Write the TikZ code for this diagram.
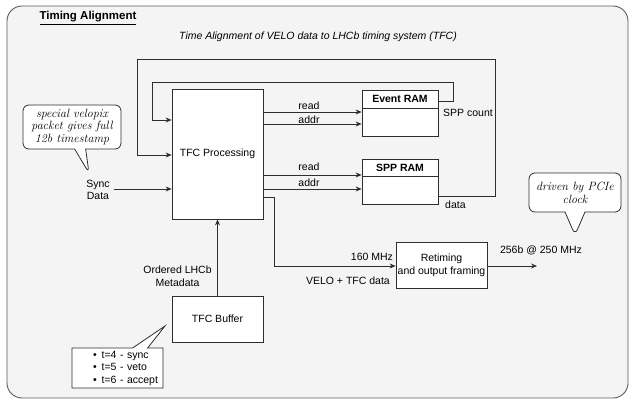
\documentclass[tikz,border=0pt]{standalone}
\usepackage{fontspec}
\setsansfont{Liberation Sans}
\usetikzlibrary{arrows.meta, positioning, shapes.callouts}
\definecolor{mFrame}{HTML}{5A5A5A}
\definecolor{mPanel}{HTML}{F4F4F4}
\definecolor{mLine}{HTML}{2E2E2E}

\begin{document}
\begin{tikzpicture}[x=1pt, y=-1pt,
      every node/.style={font=\sffamily\fontsize{10.5}{12.5}\selectfont},
      blk/.style={draw=mLine, fill=white, line width=0.8pt, inner sep=0pt},
      arr/.style={-{Stealth[length=6pt, width=5pt]}, mLine, line width=0.8pt},
      lbl/.style={inner sep=1pt},
      note/.style={draw=mLine, fill=white, line width=0.8pt, rounded corners=6pt,
        rectangle callout, align=center, inner sep=0pt,
        font=\rmfamily\itshape\fontsize{12}{12.7}\selectfont}]
    \useasboundingbox (0,0) rectangle (635,401);
    \draw[mFrame, fill=mPanel, line width=0.9pt, rounded corners=15pt] (7,6) rectangle (628,398);
    \node[anchor=west, font=\sffamily\bfseries\fontsize{11.5}{13}\selectfont] (title) at (36,18) {\underline{Timing Alignment}};
    \node[font=\sffamily\itshape\fontsize{10.5}{12}\selectfont] (subtitle) at (318,37) {Time Alignment of VELO data to LHCb timing system (TFC)};

    % blocks
    \node[blk, minimum width=91pt, minimum height=130pt] (tfc) at (217.5,154) {TFC Processing};
    \node[blk, minimum width=76pt, minimum height=18pt, font=\sffamily\bfseries\fontsize{10.5}{12}\selectfont] (evhead) at (400,99) {Event RAM};
    \node[blk, minimum width=76pt, minimum height=28pt] (evbody) at (400,122) {};
    \node[blk, minimum width=76pt, minimum height=17pt, font=\sffamily\bfseries\fontsize{10.5}{12}\selectfont] (spphead) at (400,167.5) {SPP RAM};
    \node[blk, minimum width=76pt, minimum height=28pt] (sppbody) at (400,190) {};
    \node[blk, minimum width=91pt, minimum height=46pt, align=center, font=\sffamily\fontsize{10.5}{13}\selectfont] (retime) at (441.5,265.5) {Retiming\\and output framing};
    \node[blk, minimum width=91pt, minimum height=46pt] (tfcbuf) at (217.5,319) {TFC Buffer};

    % ram ports
    \draw[arr] (tfc.east |- 0,112) -- (evbody.west |- 0,112);
    \draw[arr] (tfc.east |- 0,124) -- (evbody.west |- 0,124);
    \draw[arr] (tfc.east |- 0,175) -- (sppbody.west |- 0,175);
    \draw[arr] (tfc.east |- 0,189) -- (sppbody.west |- 0,189);
    \node[lbl] (evread) at (309,106) {read};
    \node[lbl] (evaddr) at (309,120) {addr};
    \node[lbl] (sppread) at (309,167) {read};
    \node[lbl] (sppaddr) at (309,183) {addr};
    \node[lbl, anchor=west] (sppcount) at (442,113) {SPP count};
    \node[lbl, anchor=west] (sppdata) at (444,205) {data};

    % feedback
    \draw[arr] (evhead.east |- 0,101) -| (453,82) -| (152,120) -- (tfc.west |- 0,120);
    \draw[arr] (sppbody.east |- 0,196) -| (495,59) -| (137,155) -- (tfc.west |- 0,155);

    % inputs
    \node[lbl, align=center, inner xsep=4pt] (sync) at (98,190) {Sync\\Data};
    \draw[arr] (sync.east |- 0,189) -- (tfc.west |- 0,189);
    \node[lbl, align=center] (meta) at (177.5,276) {Ordered LHCb\\Metadata};
    \draw[arr] (tfcbuf.north) -- (tfc.south);

    % output
    \draw[arr] (tfc.east |- 0,197) -| (274,266) -- (retime.west |- 0,266);
    \node[lbl] (clk160) at (372,257) {160 MHz};
    \node[lbl, anchor=east] (velotfc) at (391,281) {VELO + TFC data};
    \coordinate (pcieout) at (537,266);
    \draw[arr] (retime.east |- 0,266) -- (pcieout);
    \node[lbl] (outrate) at (541,250) {256b @ 250 MHz};

    % notes
    \node[note, minimum width=98pt, minimum height=44pt, callout absolute pointer={(89,173)},
      callout pointer width=11pt] (velopix) at (72,127) {special velopix\\packet gives full\\12b timestamp};
    \node[note, minimum width=92pt, minimum height=39pt, callout absolute pointer={(575,235)},
      callout pointer width=20pt] (pcie) at (575,192.5) {driven by PCIe\\clock};
    \node[draw=mLine, fill=white, line width=0.8pt, rectangle callout,
      callout absolute pointer={(165,326)}, callout pointer width=15pt,
      minimum width=91pt, minimum height=40pt, text width=87pt, inner xsep=2pt, inner ysep=0pt,
      align=left] (tfclist) at (117.5,368)
      {\hspace*{19pt}\textbullet\hspace{5pt}t=4 - sync\\
       \hspace*{19pt}\textbullet\hspace{5pt}t=5 - veto\\
       \hspace*{19pt}\textbullet\hspace{5pt}t=6 - accept};
  \end{tikzpicture}
\end{document}
